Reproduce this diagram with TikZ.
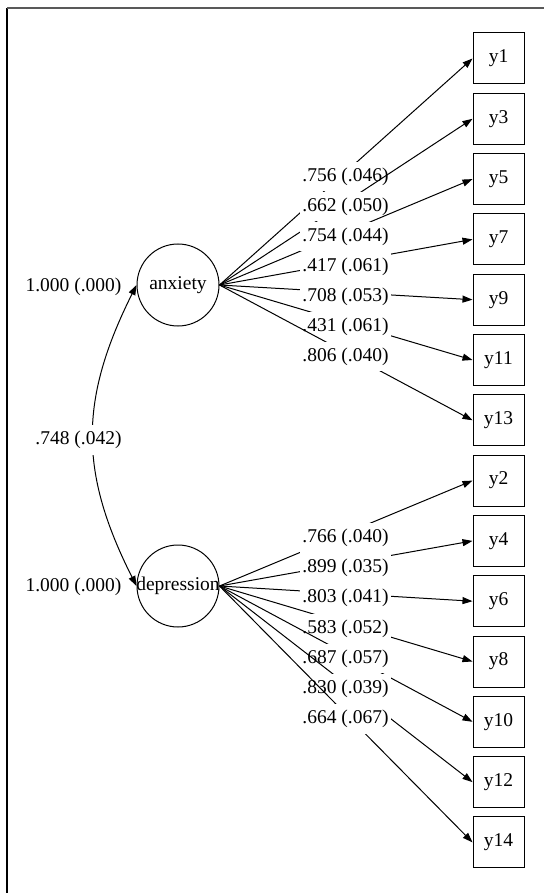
\documentclass[tikz,border=0pt]{standalone}
\usepackage{fontspec}
\setmainfont{Liberation Serif}
\usepackage{tikz}
\usetikzlibrary{arrows.meta}

\begin{document}
\begin{tikzpicture}[x=1pt, y=-1pt,
		font=\fontsize{19.5}{23}\selectfont,
		latent/.style={draw, circle, line width=1pt, minimum size=82pt, inner sep=0pt},
		item/.style={draw, rectangle, line width=1pt, minimum width=51pt, minimum height=51pt, inner sep=0pt},
		coef/.style={fill=white, inner xsep=2pt, inner ysep=0pt, minimum height=29.5pt},
		loadarrow/.style={line width=1pt, -{Triangle[length=10pt, width=7pt]}},
		corrarrow/.style={line width=1pt, {Triangle[length=10pt, width=7pt]}-{Triangle[length=10pt, width=7pt]}}]
			%%%%% START %%%%%
			
			\useasboundingbox (0, 0) rectangle (544, 893);
			
			\draw[line width=2pt] (7, 893) -- (7, 8);
			\draw[line width=1.3pt, color=black!65] (7, 8) -- (544, 8);
			
			\node[latent] (anxiety) at (178, 285) {anxiety};
			\node[latent] (depression) at (178, 586) {\makebox[0pt]{depression}};
			
			\node[item] (y1) at (498.5, 58.5) {y1};
			\node[item] (y3) at (498.5, 118.8) {y3};
			\node[item] (y5) at (498.5, 179.1) {y5};
			\node[item] (y7) at (498.5, 239.4) {y7};
			\node[item] (y9) at (498.5, 299.7) {y9};
			\node[item] (y11) at (498.5, 360) {y11};
			\node[item] (y13) at (498.5, 420.3) {y13};
			\node[item] (y2) at (498.5, 480.6) {y2};
			\node[item] (y4) at (498.5, 540.9) {y4};
			\node[item] (y6) at (498.5, 601.2) {y6};
			\node[item] (y8) at (498.5, 661.5) {y8};
			\node[item] (y10) at (498.5, 721.8) {y10};
			\node[item] (y12) at (498.5, 782.1) {y12};
			\node[item] (y14) at (498.5, 842.4) {y14};
			
			% anxiety loadings
			\draw[loadarrow] (anxiety.east) -- (y1.west);
			\node[coef] (a1) at (345.5, 176.5) {.756 (.046)};
			\draw[loadarrow] (anxiety.east) -- (y3.west);
			\node[coef] (a3) at (345.5, 206.5) {.662 (.050)};
			\draw[loadarrow] (anxiety.east) -- (y5.west);
			\node[coef] (a5) at (345.5, 236.5) {.754 (.044)};
			\draw[loadarrow] (anxiety.east) -- (y7.west);
			\node[coef] (a7) at (345.5, 266.5) {.417 (.061)};
			\draw[loadarrow] (anxiety.east) -- (y9.west);
			\node[coef] (a9) at (345.5, 296.5) {.708 (.053)};
			\draw[loadarrow] (anxiety.east) -- (y11.west);
			\node[coef] (a11) at (345.5, 326.5) {.431 (.061)};
			\draw[loadarrow] (anxiety.east) -- (y13.west);
			\node[coef] (a13) at (345.5, 356.5) {.806 (.040)};
			
			% depression loadings
			\draw[loadarrow] (depression.east) -- (y2.west);
			\node[coef] (d2) at (345.5, 538) {.766 (.040)};
			\draw[loadarrow] (depression.east) -- (y4.west);
			\node[coef] (d4) at (345.5, 568) {.899 (.035)};
			\draw[loadarrow] (depression.east) -- (y6.west);
			\node[coef] (d6) at (345.5, 598.2) {.803 (.041)};
			\draw[loadarrow] (depression.east) -- (y8.west);
			\node[coef] (d8) at (345.5, 628.4) {.583 (.052)};
			\draw[loadarrow] (depression.east) -- (y10.west);
			\node[coef] (d10) at (345.5, 658.6) {.687 (.057)};
			\draw[loadarrow] (depression.east) -- (y12.west);
			\node[coef] (d12) at (345.5, 688.8) {.830 (.039)};
			\draw[loadarrow] (depression.east) -- (y14.west);
			\node[coef] (d14) at (345.5, 719) {.664 (.067)};
			
			% variances and covariance
			\node (vanx) at (73.5, 286.5) {1.000 (.000)};
			\node (vdep) at (73.5, 586.5) {1.000 (.000)};
			\draw[corrarrow] (anxiety.west) .. controls (79, 400) and (79, 472) .. (depression.west);
			\node[coef] (cov) at (78.5, 440) {.748 (.042)};
			
			%%%%% END %%%%%
\end{tikzpicture}
\end{document}
